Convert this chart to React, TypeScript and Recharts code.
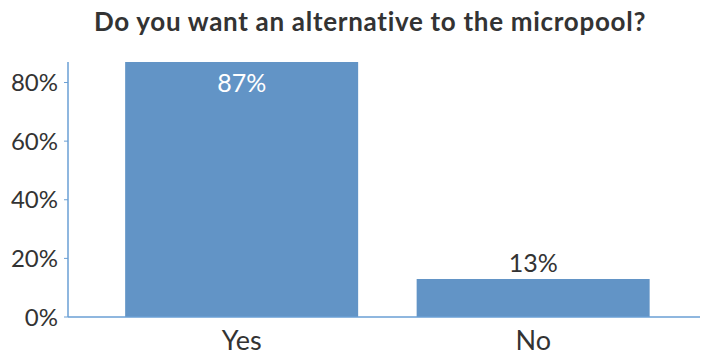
import React from 'react';
import { BarChart, Bar, XAxis, YAxis, LabelList } from 'recharts';

const categories = ['Yes', 'No'];
const percentValues = [87, 13];
const yTicks = [0, 20, 40, 60, 80];
const chartTitle = 'Do you want an alternative to the micropool?';

const data = categories.map((c, i) => ({ name: c, value: percentValues[i] }));

const BAR = '#6294c6';
const AXIS = '#6a9fd4';
const TEXT = '#333333';
const FONT = 'Lato, "Noto Sans", sans-serif';

const renderLabel = (props: any) => {
  const { x, y, width, height, value } = props;
  const inside = height > 60;
  return (
    <text
      x={x + width / 2}
      y={inside ? y + 20 : y - 17}
      textAnchor="middle"
      dominantBaseline="central"
      fill={inside ? '#ffffff' : TEXT}
      fontSize={25}
      fontFamily={FONT}
    >
      {`${value}%`}
    </text>
  );
};

export default function App() {
  return (
    <div style={{ position: 'absolute', left: 0, top: 0, width: 701, height: 358, background: '#fff' }}>
      <div
        style={{
          position: 'absolute',
          left: 0,
          top: 5,
          width: 740,
          textAlign: 'center',
          fontFamily: FONT,
          fontWeight: 700,
          fontSize: 26,
          letterSpacing: 0.7,
          color: '#333',
          lineHeight: '32px',
        }}
      >
        {chartTitle}
      </div>
      <BarChart
        width={701}
        height={358}
        data={data}
        margin={{ top: 62, right: 1, left: 0, bottom: 1 }}
        barCategoryGap="10%"
      >
        <XAxis
          dataKey="name"
          height={40}
          padding={{ left: 28, right: 21 }}
          axisLine={{ stroke: AXIS, strokeWidth: 1.5 }}
          tickLine={false}
          tick={{ fill: TEXT, fontSize: 27, fontFamily: FONT }}
          tickMargin={8}
        />
        <YAxis
          width={68}
          domain={[0, 87]}
          ticks={yTicks}
          allowDataOverflow
          tickFormatter={(v: number) => `${v}%`}
          axisLine={{ stroke: AXIS, strokeWidth: 1.5 }}
          tickLine={{ stroke: AXIS }}
          tickSize={4}
          tickMargin={6}
          tick={{ fill: TEXT, fontSize: 24, fontFamily: FONT }}
        />
        <Bar dataKey="value" fill={BAR} isAnimationActive={false}>
          <LabelList dataKey="value" content={renderLabel} />
        </Bar>
      </BarChart>
    </div>
  );
}
